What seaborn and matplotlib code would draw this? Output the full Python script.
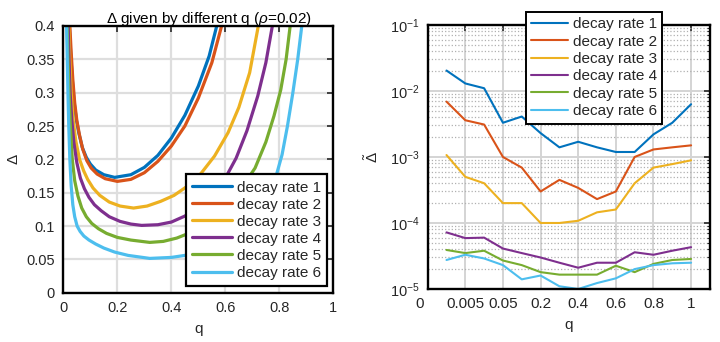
import numpy as np
import pandas as pd
import matplotlib
matplotlib.use("Agg")
import matplotlib.pyplot as plt
import seaborn as sns
from matplotlib.ticker import LogLocator, NullFormatter, NullLocator
from matplotlib.transforms import ScaledTranslation

# =========================
# data
# =========================
labels = ["decay rate 1", "decay rate 2", "decay rate 3",
          "decay rate 4", "decay rate 5", "decay rate 6"]
colors = ["#0072BD", "#D95319", "#EDB120", "#7E2F8E", "#77AC30", "#4DBEEE"]

# left panel: Delta vs q (rho = 0.02)
q1 = [0.022, 0.027, 0.033, 0.040, 0.048, 0.057, 0.070, 0.085, 0.10, 0.12, 0.15,
      0.19, 0.25, 0.30, 0.35, 0.40, 0.45, 0.50, 0.54, 0.568]
d1 = [0.40, 0.36, 0.32, 0.285, 0.26, 0.24, 0.218, 0.203, 0.193, 0.184, 0.177,
      0.173, 0.177, 0.188, 0.206, 0.232, 0.266, 0.31, 0.355, 0.40]
q2 = [0.024, 0.029, 0.035, 0.042, 0.050, 0.060, 0.072, 0.087, 0.103, 0.125,
      0.155, 0.20, 0.25, 0.30, 0.35, 0.40, 0.45, 0.50, 0.55, 0.586]
d2 = [0.40, 0.36, 0.32, 0.285, 0.258, 0.236, 0.215, 0.198, 0.187, 0.178,
      0.171, 0.167, 0.170, 0.180, 0.197, 0.22, 0.25, 0.292, 0.345, 0.40]
q3 = [0.020, 0.024, 0.029, 0.036, 0.046, 0.060, 0.075, 0.09, 0.11, 0.135, 0.17,
      0.21, 0.26, 0.31, 0.36, 0.41, 0.46, 0.51, 0.56, 0.61, 0.65, 0.69, 0.722]
d3 = [0.40, 0.35, 0.30, 0.26, 0.228, 0.20, 0.183, 0.17, 0.157, 0.146, 0.136,
      0.130, 0.127, 0.130, 0.137, 0.146, 0.160, 0.179, 0.205, 0.24, 0.278,
      0.33, 0.40]
q4 = [0.018, 0.021, 0.025, 0.031, 0.039, 0.050, 0.063, 0.078, 0.095, 0.115,
      0.14, 0.17, 0.21, 0.25, 0.29, 0.35, 0.40, 0.45, 0.50, 0.55, 0.60, 0.64,
      0.68, 0.72, 0.75, 0.774]
d4 = [0.40, 0.35, 0.30, 0.26, 0.225, 0.195, 0.172, 0.156, 0.143, 0.132,
      0.123, 0.114, 0.107, 0.103, 0.101, 0.102, 0.106, 0.115, 0.128, 0.146,
      0.172, 0.202, 0.243, 0.295, 0.345, 0.40]
q5 = [0.014, 0.017, 0.021, 0.026, 0.033, 0.042, 0.054, 0.068, 0.085, 0.105,
      0.13, 0.16, 0.20, 0.25, 0.32, 0.37, 0.42, 0.47, 0.52, 0.57, 0.62, 0.67,
      0.71, 0.75, 0.78, 0.805, 0.825, 0.84]
d5 = [0.40, 0.35, 0.30, 0.25, 0.20, 0.168, 0.145, 0.127, 0.114, 0.104, 0.096,
      0.089, 0.083, 0.079, 0.0755, 0.077, 0.082, 0.090, 0.101, 0.116, 0.136,
      0.163, 0.187, 0.226, 0.265, 0.304, 0.35, 0.40]
q6 = [0.012, 0.0145, 0.017, 0.020, 0.024, 0.029, 0.035, 0.042, 0.051, 0.062,
      0.076, 0.095, 0.12, 0.15, 0.19, 0.24, 0.32, 0.40, 0.45, 0.50, 0.55, 0.60,
      0.65, 0.70, 0.74, 0.77, 0.79, 0.81, 0.83, 0.85, 0.868, 0.883]
d6 = [0.40, 0.35, 0.30, 0.25, 0.20, 0.16, 0.132, 0.114, 0.10, 0.092, 0.085,
      0.079, 0.073, 0.067, 0.061, 0.056, 0.0515, 0.053, 0.056, 0.061, 0.067,
      0.076, 0.089, 0.108, 0.13, 0.153, 0.178, 0.207, 0.25, 0.30, 0.35, 0.40]
left_q = [q1, q2, q3, q4, q5, q6]
left_d = [d1, d2, d3, d4, d5, d6]

left_xticks = [0, 0.2, 0.4, 0.6, 0.8, 1]
left_xlabels = ["0", "0.2", "0.4", "0.6", "0.8", "1"]
left_yticks = [0, 0.05, 0.1, 0.15, 0.2, 0.25, 0.3, 0.35, 0.4]
left_ylabels = ["0", "0.05", "0.1", "0.15", "0.2", "0.25", "0.3", "0.35", "0.4"]

# right panel: Delta tilde (log scale) at sampled positions
right_pos = [0.5, 1.0, 1.5, 2.0, 2.5, 3.0, 3.5, 4.0, 4.5, 5.0, 5.5, 6.0, 6.5, 7.0]
r1 = [0.0204, 0.013, 0.011, 0.0033, 0.0041, 0.0023, 0.0014, 0.0017, 0.0014,
      0.00119, 0.00119, 0.0022, 0.0033, 0.0063]
r2 = [0.0069, 0.0036, 0.0031, 0.0010, 0.00069, 0.0003, 0.00045, 0.00034,
      0.00023, 0.0003, 0.0010, 0.0013, 0.0014, 0.0015]
r3 = [0.00107, 0.0005, 0.0004, 0.0002, 0.0002, 0.0001, 0.0001, 0.000108,
      0.000145, 0.00016, 0.0004, 0.00069, 0.00078, 0.00089]
r4 = [7.2e-5, 5.9e-5, 6.0e-5, 4.1e-5, 3.5e-5, 3.0e-5, 2.5e-5, 2.1e-5, 2.5e-5,
      2.5e-5, 3.6e-5, 3.3e-5, 3.8e-5, 4.3e-5]
r5 = [3.9e-5, 3.5e-5, 3.8e-5, 2.7e-5, 2.3e-5, 1.8e-5, 1.65e-5, 1.65e-5, 1.65e-5,
      2.25e-5, 1.8e-5, 2.4e-5, 2.75e-5, 2.85e-5]
r6 = [2.75e-5, 3.3e-5, 2.9e-5, 2.3e-5, 1.4e-5, 1.6e-5, 1.1e-5, 1.0e-5, 1.23e-5,
      1.45e-5, 2.0e-5, 2.3e-5, 2.45e-5, 2.5e-5]
right_vals = [r1, r2, r3, r4, r5, r6]
right_xlabels = ["0", "0.005", "0.05", "0.2", "0.4", "0.6", "0.8", "1"]

# =========================
# style
# =========================
sns.set_theme(style="white")
plt.rcParams["font.family"] = ["Liberation Sans", "DejaVu Sans"]
plt.rcParams["mathtext.fontset"] = "custom"
plt.rcParams["mathtext.rm"] = "Liberation Sans"
plt.rcParams["mathtext.it"] = "Liberation Sans:italic"
plt.rcParams["mathtext.bf"] = "Liberation Sans:bold"

txt = "#262626"
fig = plt.figure(figsize=(7.2, 3.42), dpi=100)
ax1 = fig.add_axes([0.088, 0.144, 0.375, 0.780])
ax2 = fig.add_axes([0.594, 0.155, 0.392, 0.772])

# =========================
# left panel
# =========================
for q, d, c, lab in zip(left_q, left_d, colors, labels):
    sns.lineplot(x=q, y=d, ax=ax1, color=c, lw=2.3, label=lab, sort=False)

ax1.set_xlim(0, 1)
ax1.set_ylim(0, 0.4)
ax1.set_xticks(left_xticks)
ax1.set_xticklabels(left_xlabels)
ax1.set_yticks(left_yticks)
ax1.set_yticklabels(left_ylabels)
ax1.grid(True, color="#dedede", lw=1.6)
ax1.set_axisbelow(True)
ax1.set_title(r"$\Delta$ given by different q ($\rho$=0.02)", fontsize=11,
              color="black", pad=2, x=0.54)
ax1.set_xlabel("q", fontsize=11, color=txt, labelpad=5)
ax1.set_ylabel(r"$\Delta$", fontsize=11, color=txt, labelpad=4)

leg1 = ax1.legend(loc="lower right", bbox_to_anchor=(327 / 720, 1 - 286 / 342),
                  bbox_transform=fig.transFigure, fancybox=False, framealpha=1,
                  edgecolor="black", fontsize=11, handlelength=2.6,
                  handletextpad=0.3, labelspacing=0.2, borderpad=0.4,
                  borderaxespad=0)
leg1.get_frame().set_linewidth(1.6)

# =========================
# right panel
# =========================
for v, c, lab in zip(right_vals, colors, labels):
    sns.lineplot(x=right_pos, y=v, ax=ax2, color=c, lw=1.5, label=lab, sort=False)

ax2.set_yscale("log")
ax2.set_ylim(1e-5, 1e-1)
ax2.set_xlim(0, 7.5)
ax2.set_xticks(range(len(right_xlabels)))
ax2.set_xticklabels(right_xlabels)
ax2.xaxis.set_minor_locator(NullLocator())
ax2.yaxis.set_major_locator(LogLocator(base=10, numticks=10))
ax2.yaxis.set_minor_locator(LogLocator(base=10, subs=np.arange(2, 10), numticks=20))
ax2.yaxis.set_minor_formatter(NullFormatter())
ax2.grid(True, which="major", color="#d4d4d4", lw=1.4)
ax2.grid(True, which="minor", axis="y", color="#b0b0b0", lw=0.9, ls=":")
ax2.set_axisbelow(True)
ax2.set_xlabel("q", fontsize=11, color=txt, labelpad=5)
ax2.set_ylabel(r"$\tilde{\Delta}$", fontsize=11, color=txt, labelpad=6)

leg2 = ax2.legend(loc="upper left", bbox_to_anchor=(526 / 720, 1 - 12 / 342),
                  bbox_transform=fig.transFigure, fancybox=False, framealpha=1,
                  edgecolor="black", fontsize=11, handlelength=2.4,
                  handletextpad=0.3, labelspacing=0.22, borderpad=0.35,
                  borderaxespad=0)
leg2.get_frame().set_linewidth(1.4)

for ax in (ax1, ax2):
    ax.tick_params(which="both", direction="in", top=True, right=True,
                   colors=txt, labelsize=10.5, pad=6)
    ax.tick_params(which="major", length=4, width=1.2)
    ax.tick_params(which="minor", length=2.5, width=0.8)
    for s in ax.spines.values():
        s.set_color("black")
        s.set_linewidth(1.7)

ax2.tick_params(axis="x", labelsize=11)
# the "0" label sits a little left of the axis edge in the reference
lab0 = ax2.get_xticklabels()[0]
lab0.set_transform(lab0.get_transform() + ScaledTranslation(-0.08, 0, fig.dpi_scale_trans))

fig.savefig("out.png", dpi=100)
